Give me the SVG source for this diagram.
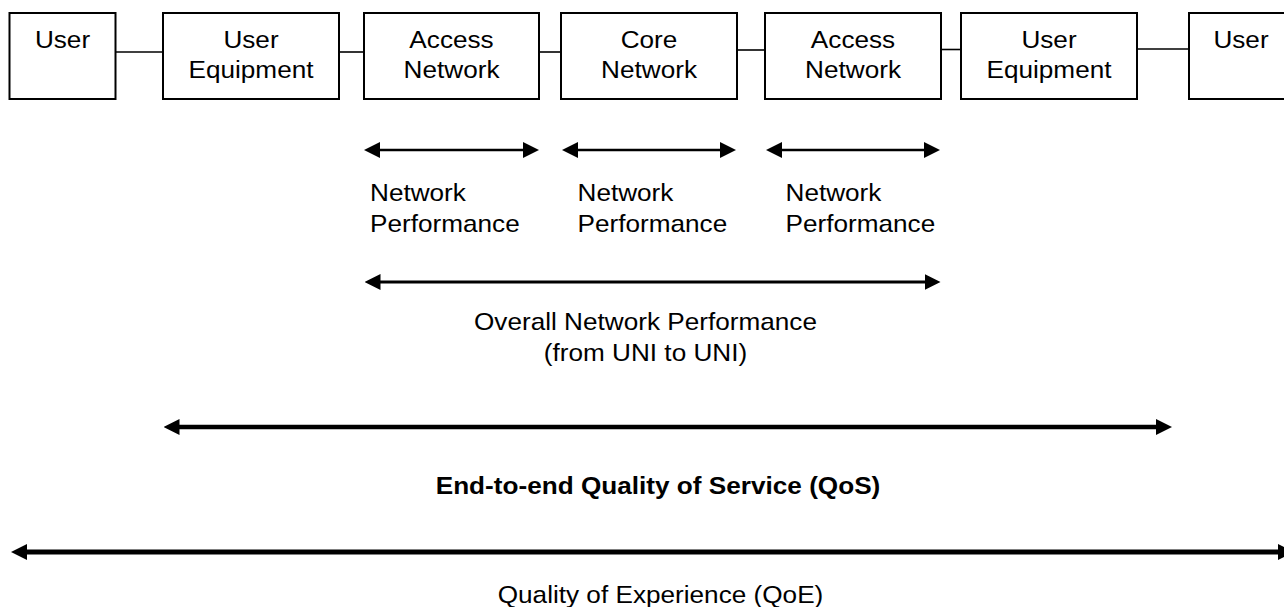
<svg xmlns="http://www.w3.org/2000/svg" width="1284" height="607" viewBox="0 0 1284 607">
<style>
  .box { fill: #ffffff; stroke: #000000; stroke-width: 2; }
  .link { stroke: #000000; stroke-width: 1.6; fill: none; }
  .t { font-family: "Liberation Sans", Arial, sans-serif; font-size: 24px; fill: #000000; }
  .c { text-anchor: middle; }
  .b { font-weight: bold; }
  .a1 { stroke: #000; stroke-width: 2.5; fill: none; marker-start: url(#ah); marker-end: url(#ah); }
  .a2 { stroke: #000; stroke-width: 3; fill: none; marker-start: url(#ah); marker-end: url(#ah); }
  .a3 { stroke: #000; stroke-width: 4.5; fill: none; marker-start: url(#ah); marker-end: url(#ah); }
  .a4 { stroke: #000; stroke-width: 5; fill: none; marker-start: url(#ah); marker-end: url(#ah); }
</style>
<defs>
  <marker id="ah" markerUnits="userSpaceOnUse" markerWidth="16" markerHeight="16" refX="6" refY="8" orient="auto-start-reverse" viewBox="0 0 16 16">
    <path d="M0,0 L16,8 L0,16 z" fill="#000"/>
  </marker>
</defs>
<rect width="1284" height="607" fill="#ffffff"/>

<g id="connectors">
  <line class="link" x1="115.5" y1="52" x2="163" y2="52"/>
  <line class="link" x1="339" y1="52" x2="364" y2="52"/>
  <line class="link" x1="539" y1="52" x2="561" y2="52"/>
  <line class="link" x1="737" y1="50" x2="765" y2="50"/>
  <line class="link" x1="941" y1="49.5" x2="961" y2="49.5"/>
  <line class="link" x1="1137" y1="49" x2="1189" y2="49"/>
</g>

<g id="user-left">
  <rect class="box" x="9.5" y="13" width="106" height="86"/>
  <text class="t c" transform="translate(62.5,48) scale(1.09,1)">User</text>
</g>
<g id="ue-left">
  <rect class="box" x="163" y="13" width="176" height="86"/>
  <text class="t c" transform="translate(251,48) scale(1.09,1)"><tspan x="0" y="0">User</tspan><tspan x="0" y="30">Equipment</tspan></text>
</g>
<g id="an-left">
  <rect class="box" x="364" y="13" width="175" height="86"/>
  <text class="t c" transform="translate(451.5,48) scale(1.09,1)"><tspan x="0" y="0">Access</tspan><tspan x="0" y="30">Network</tspan></text>
</g>
<g id="core">
  <rect class="box" x="561" y="13" width="176" height="86"/>
  <text class="t c" transform="translate(649,48) scale(1.09,1)"><tspan x="0" y="0">Core</tspan><tspan x="0" y="30">Network</tspan></text>
</g>
<g id="an-right">
  <rect class="box" x="765" y="13" width="176" height="86"/>
  <text class="t c" transform="translate(853,48) scale(1.09,1)"><tspan x="0" y="0">Access</tspan><tspan x="0" y="30">Network</tspan></text>
</g>
<g id="ue-right">
  <rect class="box" x="961" y="13" width="176" height="86"/>
  <text class="t c" transform="translate(1049,48) scale(1.09,1)"><tspan x="0" y="0">User</tspan><tspan x="0" y="30">Equipment</tspan></text>
</g>
<g id="user-right">
  <rect class="box" x="1189" y="13" width="106" height="86"/>
  <text class="t c" transform="translate(1241,48) scale(1.09,1)">User</text>
</g>

<g id="measures">
  <line class="a1" x1="374" y1="150" x2="529" y2="150"/>
  <line class="a1" x1="572" y1="150" x2="726" y2="150"/>
  <line class="a1" x1="776" y1="150" x2="930" y2="150"/>
  <line class="a2" x1="374.5" y1="282" x2="930.5" y2="282"/>
  <line class="a3" x1="173.5" y1="427" x2="1162" y2="427"/>
  <line class="a4" x1="21" y1="552" x2="1284" y2="552"/>
</g>

<g id="labels">
  <text class="t" transform="translate(370,200.7) scale(1.09,1)"><tspan x="0" y="0">Network</tspan><tspan x="0" y="31">Performance</tspan></text>
  <text class="t" transform="translate(577.5,200.7) scale(1.09,1)"><tspan x="0" y="0">Network</tspan><tspan x="0" y="31">Performance</tspan></text>
  <text class="t" transform="translate(785.5,200.7) scale(1.09,1)"><tspan x="0" y="0">Network</tspan><tspan x="0" y="31">Performance</tspan></text>
  <text class="t c" transform="translate(645.5,330) scale(1.09,1)"><tspan x="0" y="0">Overall Network Performance</tspan><tspan x="0" y="31">(from UNI to UNI)</tspan></text>
  <text class="t c b" transform="translate(658,494) scale(1.09,1)">End-to-end Quality of Service (QoS)</text>
  <text class="t c" transform="translate(660.5,603) scale(1.09,1)">Quality of Experience (QoE)</text>
</g>
</svg>
